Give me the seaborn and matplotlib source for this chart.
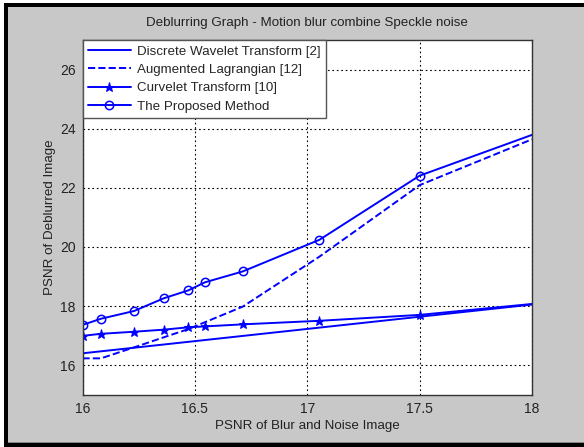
import matplotlib
matplotlib.use("Agg")
import matplotlib.pyplot as plt
from matplotlib.patches import Rectangle
import seaborn as sns
import numpy as np

# ---- data ----
x_common = [16.0, 16.082, 16.229, 16.361, 16.471, 16.544, 16.713, 17.054, 17.5, 18.0]
dwt_x = [16.0, 18.0]
dwt_y = [16.40, 18.05]
al_y = [16.23, 16.23, 16.60, 16.94, 17.22, 17.45, 17.98, 19.67, 22.09, 23.64]
curvelet_y = [16.99, 17.06, 17.13, 17.20, 17.28, 17.31, 17.38, 17.50, 17.70, 18.07]
proposed_y = [17.36, 17.57, 17.83, 18.26, 18.53, 18.80, 19.17, 20.24, 22.41, 23.79]

labels = ["Discrete Wavelet Transform [2]", "Augmented Lagrangian [12]",
          "Curvelet Transform [10]", "The Proposed Method"]
title = "Deblurring Graph - Motion blur combine Speckle noise"
xlabel = "PSNR of Blur and Noise Image"
ylabel = "PSNR of Deblurred Image"
xticks = [16, 16.5, 17, 17.5, 18]
xticklabels = ["16", "16.5", "17", "17.5", "18"]
yticks = [16, 18, 20, 22, 24, 26]

sns.set_style("white")
plt.rcParams['font.family'] = ['Liberation Sans', 'DejaVu Sans']

W, H = 584, 447
fig = plt.figure(figsize=(W / 100, H / 100), dpi=100)
fig.patch.set_facecolor('#c8c8c8')

ax = fig.add_axes([82.5 / W, 1 - 394.7 / H, (532 - 82.5) / W, (394.7 - 40) / H])
ax.set_facecolor('white')

fs = 9.6
blue = (0, 0, 1)
lw = 1.4
mk_every = list(range(len(x_common) - 1))  # no marker drawn on the final point at x=18
sns.lineplot(x=dwt_x, y=dwt_y, ax=ax, color=blue, lw=lw, linestyle='-', label=labels[0])
sns.lineplot(x=x_common, y=al_y, ax=ax, color=blue, lw=lw, linestyle='--', label=labels[1])
sns.lineplot(x=x_common, y=curvelet_y, ax=ax, color=blue, lw=lw, linestyle='-',
             marker='*', markersize=6.5, markeredgecolor=blue, markevery=mk_every,
             label=labels[2])
sns.lineplot(x=x_common, y=proposed_y, ax=ax, color=blue, lw=lw, linestyle='-',
             marker='o', markersize=6, markerfacecolor='none', markeredgecolor=blue,
             markeredgewidth=1.1, markevery=mk_every, label=labels[3])

ax.set_xlim(16, 18)
ax.set_ylim(15, 27)
ax.set_xticks(xticks)
ax.set_xticklabels(xticklabels)
ax.set_yticks(yticks)
ax.grid(True, color='black', linestyle=(0, (1.5, 2.5)), linewidth=0.8)
for s in ax.spines.values():
    s.set_color('#333333')
    s.set_linewidth(1.0)
ax.tick_params(axis='both', direction='in', length=3, labelsize=fs + 0.4,
               colors='#222222', pad=5)

ax.set_xlabel(xlabel, fontsize=fs, color='#222222', labelpad=3)
ax.set_ylabel(ylabel, fontsize=fs, color='#222222', labelpad=3)
ax.set_title(title, fontsize=fs, color='#222222', pad=10)

leg = ax.legend(loc='upper left', bbox_to_anchor=(0, 1), borderaxespad=0,
                frameon=True, fancybox=False, fontsize=fs, handlelength=3.2,
                handletextpad=0.5, labelspacing=0.45, borderpad=0.4)
leg.get_frame().set_edgecolor('#555555')
leg.get_frame().set_linewidth(1.0)
leg.get_frame().set_facecolor('white')
leg.get_frame().set_alpha(1)

# outer black border (cropped on the right), white margin at top-left
fig.patches.append(Rectangle((0, 1 - 3 / H), 1, 3 / H, transform=fig.transFigure,
                             facecolor='white', edgecolor='none'))
fig.patches.append(Rectangle((0, 0), 4 / W, 1, transform=fig.transFigure,
                             facecolor='white', edgecolor='none'))
fig.patches.append(Rectangle((4 / W, 1 - 7 / H), 1, 4 / H, transform=fig.transFigure,
                             facecolor='black', edgecolor='none'))
fig.patches.append(Rectangle((4 / W, 0), 4 / W, 1 - 3 / H, transform=fig.transFigure,
                             facecolor='black', edgecolor='none'))
fig.patches.append(Rectangle((4 / W, 0), 1, 4 / H, transform=fig.transFigure,
                             facecolor='black', edgecolor='none'))
fig.patches.append(Rectangle((8 / W, 4 / H), 1, 1 / H, transform=fig.transFigure,
                             facecolor='#888888', edgecolor='none'))

fig.savefig("out.png", dpi=100, facecolor=fig.get_facecolor())
